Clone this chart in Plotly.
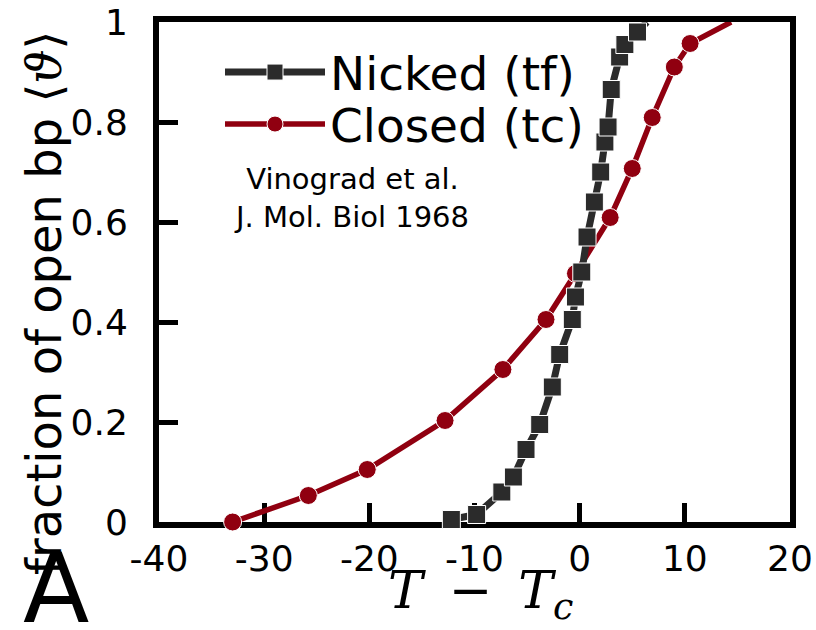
import plotly.graph_objects as go

# ---- data ----
nicked_x = [-12.2, -9.8, -7.4, -6.3, -5.1, -3.8, -2.6, -1.9, -0.7, -0.4, 0.2, 0.7,
            1.4, 2.0, 2.4, 2.7, 3.0, 3.8, 4.3, 5.5, 6.4]
nicked_y = [0.005, 0.015, 0.06, 0.09, 0.145, 0.195, 0.27, 0.335, 0.405, 0.45, 0.5, 0.57,
            0.64, 0.70, 0.76, 0.79, 0.865, 0.93, 0.955, 0.98, 1.0]
closed_x = [-33.0, -25.8, -20.2, -12.8, -7.3, -3.2, -0.4, 2.9, 5.0, 6.9, 9.0, 10.5, 14.4]
closed_y = [0.0, 0.053, 0.105, 0.203, 0.305, 0.405, 0.497, 0.609, 0.707, 0.809, 0.91, 0.957, 1.0]

x_tickvals = [-40, -30, -20, -10, 0, 10, 20]
x_ticktext = ["-40", "-30", "-20", "-10", "0", "10", "20"]
y_tickvals = [0, 0.2, 0.4, 0.6, 0.8, 1]
y_ticktext = ["0", "0.2", "0.4", "0.6", "0.8", "1"]

BLACK = "#2b2b2b"
RED = "#900010"
FONT = "DejaVu Sans"

fig = go.Figure()

# last point of each curve is where the line meets the frame: no marker drawn there
closed_sizes = [18] * (len(closed_x) - 1) + [0]
nicked_sizes = [18] * (len(nicked_x) - 1) + [0]

fig.add_trace(go.Scatter(
    x=closed_x, y=closed_y, mode="lines+markers", name="Closed (tc)",
    line=dict(color=RED, width=5.5),
    marker=dict(symbol="circle", size=closed_sizes, color=RED, opacity=1),
    cliponaxis=False, legend="legend2",
))
fig.add_trace(go.Scatter(
    x=nicked_x, y=nicked_y, mode="lines+markers", name="Nicked (tf)",
    line=dict(color=BLACK, width=7),
    marker=dict(symbol="square", size=nicked_sizes, color=BLACK, opacity=1),
    cliponaxis=False, legend="legend",
))

axis_common = dict(
    showgrid=False, zeroline=False, showline=True, linecolor="black", linewidth=6,
    mirror=True, ticks="inside", ticklen=19, tickwidth=5, tickcolor="black",
    layer="below traces", automargin=False,
    tickfont=dict(family=FONT, size=36, color="black"),
)

fig.update_xaxes(range=[-40, 20], tickmode="array", tickvals=x_tickvals,
                 ticktext=x_ticktext, **axis_common)
# an en space after each y label keeps the labels clear of the frame, as in the reference
fig.update_yaxes(range=[0, 1], tickmode="array", tickvals=y_tickvals,
                 ticktext=[t + "\u2002" for t in y_ticktext], **axis_common)

legend_common = dict(
    xanchor="left", yanchor="top", itemwidth=100,
    font=dict(family=FONT, size=47, color="black"),
    bgcolor="rgba(0,0,0,0)", borderwidth=0,
)

fig.update_layout(
    width=816, height=630,
    margin=dict(l=159, r=26, t=22, b=108),
    paper_bgcolor="white", plot_bgcolor="white",
    showlegend=True,
    legend=dict(x=(220 - 159) / 631, y=1 - (35 - 22) / 500, **legend_common),
    legend2=dict(x=(220 - 159) / 631, y=1 - (87 - 22) / 500, **legend_common),
    annotations=[
        dict(text="Vinograd et al.<br>J. Mol. Biol 1968", xref="paper", yref="paper",
             x=(351 - 159) / 631, y=1 - (198 - 22) / 500, xanchor="center", yanchor="middle",
             showarrow=False, font=dict(family=FONT, size=29, color="black"), align="center"),
        dict(text="fraction of open bp <span style=\"font-family:'DejaVu Serif'\">⟨<i>ϑ</i>⟩</span>",
             xref="paper", yref="paper",
             x=(44 - 159) / 631, y=1 - (303 - 22) / 500, xanchor="center", yanchor="middle",
             textangle=-90, showarrow=False,
             font=dict(family=FONT, size=48, color="black")),
        dict(text="<i>T</i>\u2002−\u2002<i>T</i><sub><i>c</i></sub>", xref="paper", yref="paper",
             x=(480 - 159) / 631, y=-(594 - 522) / 500, xanchor="center", yanchor="middle",
             showarrow=False,
             font=dict(family="DejaVu Serif", size=52, color="black")),
        dict(text="A", xref="paper", yref="paper",
             x=(56 - 159) / 631, y=-(588 - 522) / 500, xanchor="center", yanchor="middle",
             showarrow=False, font=dict(family=FONT, size=97, color="black")),
    ],
)

fig.write_html("out.html")
